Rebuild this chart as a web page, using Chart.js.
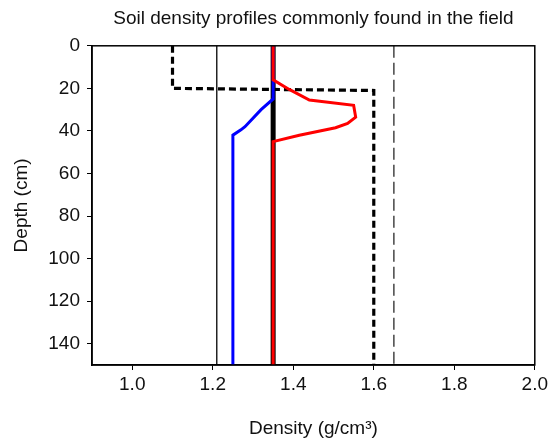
<!DOCTYPE html>
<html>
<head>
<meta charset="utf-8">
<script src="https://cdn.jsdelivr.net/npm/chart.js@4"></script>
<style>
html,body{margin:0;padding:0;background:#fff;}
#wrap{width:551px;height:442px;}
</style>
</head>
<body>
<div id="wrap"><canvas id="c" width="551" height="442"></canvas></div>
<script>
// ---- data ----
const xTickValues = [1.0, 1.2, 1.4, 1.6, 1.8, 2.0];
const yTickValues = [0, 20, 40, 60, 80, 100, 120, 140];

const redDensity  = [1.35, 1.35, 1.39, 1.44, 1.55, 1.555, 1.535, 1.505, 1.415, 1.35, 1.35];
const redDepth    = [0, 16, 20.5, 25.5, 28, 33.5, 36.5, 38.5, 42, 45, 150];

const blueDensity = [1.35, 1.35, 1.35, 1.32, 1.28, 1.27, 1.25, 1.25];
const blueDepth   = [0, 17, 25, 30, 38, 39.5, 42, 150];

const uniformDensity = [1.35, 1.35];
const uniformDepth   = [0, 150];

const plowDensity = [1.1, 1.1, 1.6, 1.6];
const plowDepth   = [0, 20, 21, 150];

const lowRefDensity  = [1.21, 1.21];
const lowRefDepth    = [0, 150];

const highRefDensity = [1.65, 1.65];
const highRefDepth   = [0, 150];

function pts(xs, ys){ return xs.map((x,i)=>({x:x, y:ys[i]})); }

const FONT = "'Liberation Sans', Arial, sans-serif";
const FS = 19;

const frame = {
  id: 'frame',
  afterLayout(chart){
    // centre the title over the plot area
    if (chart.titleBlock) {
      chart.titleBlock.left = chart.chartArea.left;
      chart.titleBlock.right = chart.chartArea.right;
    }
  },
  afterDatasetsDraw(chart){
    const a = chart.chartArea, ctx = chart.ctx;
    ctx.save();
    ctx.strokeStyle = '#000';
    ctx.lineWidth = 1.5;
    ctx.strokeRect(a.left, a.top, a.right - a.left, a.bottom - a.top);
    ctx.restore();
  }
};

new Chart(document.getElementById('c'), {
  type: 'scatter',
  data: {
    datasets: [
      {data: pts(redDensity, redDepth), borderColor: '#ff0000', borderWidth: 3},
      {data: pts(blueDensity, blueDepth), borderColor: '#0000ff', borderWidth: 3},
      {data: pts(uniformDensity, uniformDepth), borderColor: '#000', borderWidth: 5},
      {data: pts(plowDensity, plowDepth), borderColor: '#000', borderWidth: 3.2, borderDash: [7,4]},
      {data: pts(lowRefDensity, lowRefDepth), borderColor: '#000', borderWidth: 1.3},
      {data: pts(highRefDensity, highRefDepth), borderColor: '#000', borderWidth: 1.1, borderDash: [12,5]}
    ].map(d => Object.assign({showLine: true, pointRadius: 0, tension: 0, fill: false, borderCapStyle:'butt', borderJoinStyle:'miter'}, d))
  },
  options: {
    responsive: false,
    animation: false,
    layout: {padding: {left: 0, right: 16, top: 0, bottom: 0}},
    plugins: {
      legend: {display: false},
      tooltip: {enabled: false},
      title: {
        display: true,
        text: 'Soil density profiles commonly found in the field',
        color: '#111',
        font: {family: FONT, size: FS, weight: 'normal'},
        padding: {top: 7, bottom: 16}
      }
    },
    scales: {
      x: {
        type: 'linear',
        min: 0.9, max: 2.0,
        afterBuildTicks(s){ s.ticks = xTickValues.map(v => ({value: v})); },
        afterFit(s){ s.height = 77; },
        grid: {display: true, drawOnChartArea: false, drawTicks: true, tickLength: 5, color: '#000', tickColor:'#000'},
        border: {display: true, color: '#000', width: 1.5},
        ticks: {color: '#111', font: {family: FONT, size: FS}, padding: 3,
                callback: v => v.toFixed(1)},
        title: {display: true, text: 'Density (g/cm³)', color: '#111',
                font: {family: FONT, size: FS}, padding: {top: 4, bottom: 2}}
      },
      y: {
        type: 'linear',
        reverse: true,
        min: 0, max: 150,
        afterBuildTicks(s){ s.ticks = yTickValues.map(v => ({value: v})); },
        afterFit(s){ s.width = 92; },
        grid: {display: true, drawOnChartArea: false, drawTicks: true, tickLength: 5, color: '#000', tickColor:'#000'},
        border: {display: true, color: '#000', width: 1.5},
        ticks: {color: '#111', font: {family: FONT, size: FS}, padding: 7},
        title: {display: true, text: 'Depth (cm)', color: '#111',
                font: {family: FONT, size: FS}, padding: {top: 10, bottom: 4}}
      }
    }
  },
  plugins: [frame]
});
</script>
</body>
</html>
